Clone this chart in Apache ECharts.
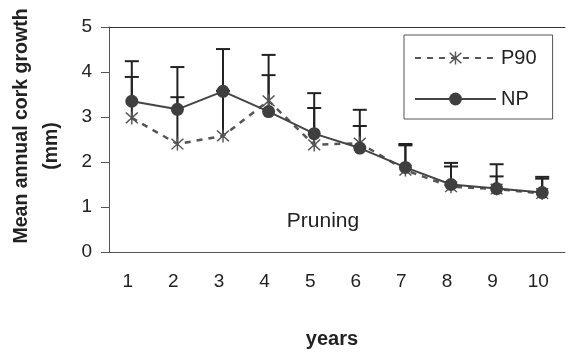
<!DOCTYPE html>
<html>
<head>
<meta charset="utf-8">
<script src="https://cdn.jsdelivr.net/npm/echarts@6/dist/echarts.min.js"></script>
<style>
html, body { margin: 0; padding: 0; background: #fff; }
#chart { width: 568px; height: 353px; }
</style>
</head>
<body>
<div id="chart"></div>
<script>
// years on the x axis
var years = ['1', '2', '3', '4', '5', '6', '7', '8', '9', '10'];
// mean annual cork growth (mm)
var p90 = [2.98, 2.40, 2.58, 3.36, 2.38, 2.42, 1.82, 1.45, 1.40, 1.30];
var np = [3.35, 3.17, 3.57, 3.12, 2.63, 2.31, 1.88, 1.50, 1.41, 1.32];
// top of the error bars
var p90High = [3.89, 3.44, 3.58, 3.93, 3.20, 2.80, 2.37, 1.90, 1.68, 1.63];
var npHigh = [4.24, 4.11, 4.51, 4.38, 3.53, 3.16, 2.40, 1.98, 1.95, 1.67];
var yTicks = [0, 1, 2, 3, 4, 5];

var font = 'Liberation Sans, Arial, sans-serif';
var starPath = 'path://M9 0L11 0L11 20L9 20Z M1 2.5L2.5 1L19 17.5L17.5 19Z M17.5 1L19 2.5L2.5 19L1 17.5Z';

// data for the error bars: [index, low, high]
var errData = [];
for (var i = 0; i < years.length; i++) {
	errData.push([i, p90[i], p90High[i]]);
	errData.push([i, np[i], npHigh[i]]);
}

function renderErr(params, api) {
	var x = api.value(0);
	var lo = api.coord([x, api.value(1)]);
	var hi = api.coord([x, api.value(2)]);
	var half = 7;
	var st = { stroke: '#222', lineWidth: 2 };
	return {
		type: 'group',
		children: [
			{ type: 'line', shape: { x1: lo[0], y1: lo[1], x2: hi[0], y2: hi[1] }, style: st },
			{ type: 'line', shape: { x1: hi[0] - half, y1: hi[1], x2: hi[0] + half, y2: hi[1] }, style: st }
		]
	};
}

var chart = echarts.init(document.getElementById('chart'));
chart.setOption({
	animation: false,
	grid: { left: 109, right: 3, top: 27, bottom: 101, containLabel: false },
	legend: {
		orient: 'vertical',
		left: 404,
		top: 35,
		padding: [13, 16, 10, 10],
		itemGap: 21,
		itemWidth: 81,
		itemHeight: 16,
		borderColor: '#555',
		borderWidth: 1,
		textStyle: { fontFamily: font, fontSize: 20, color: '#222', lineHeight: 20 },
		data: ['P90', 'NP']
	},
	xAxis: [{
		type: 'category',
		data: years,
		boundaryGap: true,
		axisLine: { lineStyle: { color: '#555', width: 1 } },
		axisTick: { length: 6, lineStyle: { color: '#555' } },
		axisLabel: { margin: 20, fontFamily: font, fontSize: 19, color: '#222', padding: [0, 8, 0, 0] }
	}, {
		type: 'category',
		data: years,
		position: 'top',
		axisLine: { lineStyle: { color: '#333', width: 1 } },
		axisTick: { show: false },
		axisLabel: { show: false }
	}],
	yAxis: {
		type: 'value',
		min: yTicks[0],
		max: yTicks[yTicks.length - 1],
		interval: 1,
		axisLine: { show: true, lineStyle: { color: '#555', width: 1 } },
		axisTick: { show: true, length: 8, lineStyle: { color: '#555' } },
		splitLine: { show: false },
		axisLabel: { margin: 17, fontFamily: font, fontSize: 19, color: '#222' }
	},
	series: [{
		type: 'custom',
		renderItem: renderErr,
		data: errData,
		z: 1,
		silent: true
	}, {
		name: 'P90',
		type: 'line',
		data: p90,
		symbol: starPath,
		symbolSize: 13,
		z: 2,
		lineStyle: { color: '#555', width: 2.5, type: [6, 6] },
		itemStyle: { color: '#555' }
	}, {
		name: 'NP',
		type: 'line',
		data: np,
		symbol: 'circle',
		symbolSize: 13,
		z: 3,
		lineStyle: { color: '#444', width: 2 },
		itemStyle: { color: '#3f3f3f' }
	}],
	graphic: [{
		type: 'text',
		x: 323, y: 221,
		style: { text: 'Pruning', fontFamily: font, fontSize: 21, fill: '#222', align: 'center', verticalAlign: 'middle' }
	}, {
		type: 'text',
		x: 332, y: 339,
		style: { text: 'years', fontFamily: font, fontSize: 20, fontWeight: 'bold', fill: '#222', align: 'center', verticalAlign: 'middle' }
	}, {
		type: 'text',
		x: 22, y: 126,
		rotation: Math.PI / 2,
		style: { text: 'Mean annual cork growth', fontFamily: font, fontSize: 19.5, fontWeight: 'bold', fill: '#222', align: 'center', verticalAlign: 'middle' }
	}, {
		type: 'text',
		x: 52, y: 146,
		rotation: Math.PI / 2,
		style: { text: '(mm)', fontFamily: font, fontSize: 19.5, fontWeight: 'bold', fill: '#222', align: 'center', verticalAlign: 'middle' }
	}]
});
</script>
</body>
</html>
